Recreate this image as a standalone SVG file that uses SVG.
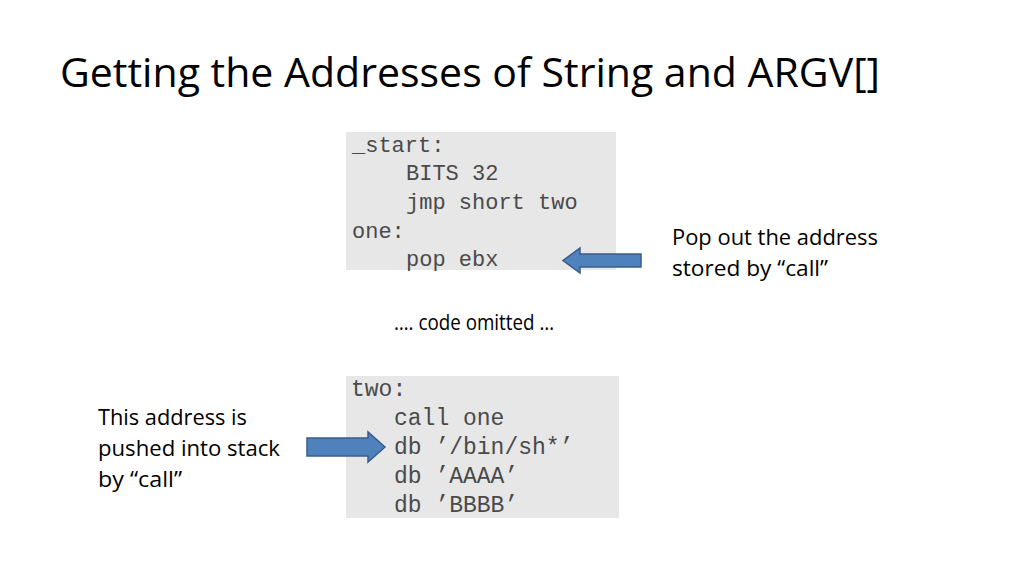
<svg xmlns="http://www.w3.org/2000/svg" width="1024" height="576" viewBox="0 0 1024 576">
<style>
.title{font-family:"Open Sans","Liberation Sans",sans-serif;font-size:40px;fill:#000}
.lbl{font-family:"Open Sans","Liberation Sans",sans-serif;font-size:21px;fill:#000}
.code{font-family:"Liberation Mono","DejaVu Sans Mono",monospace;fill:#4a4a4a}
.box{fill:#e7e7e7}
.arrow{fill:#4f81bd;stroke:#385d8a;stroke-width:1.5}
</style>
<rect width="1024" height="576" fill="#fff"/>
<text class="title" x="60" y="87" textLength="820" lengthAdjust="spacingAndGlyphs">Getting the Addresses of String and ARGV[]</text>
<g id="code-top">
<rect class="box" x="346" y="132" width="270" height="138"/>
<text class="code" font-size="22"><tspan x="352" y="152">_start:</tspan><tspan x="406" y="180">BITS 32</tspan><tspan x="406" y="209">jmp short two</tspan><tspan x="352" y="238">one:</tspan><tspan x="406" y="266">pop ebx</tspan></text>
</g>
<g id="omitted">
<text class="lbl" x="474" y="330" font-size="17" text-anchor="middle" textLength="160" lengthAdjust="spacingAndGlyphs">…. code omitted …</text>
</g>
<g id="code-bottom">
<rect class="box" x="346" y="376" width="273" height="142"/>
<text class="code" font-size="23"><tspan x="351" y="396">two:</tspan><tspan x="394" y="425">call one</tspan><tspan x="394" y="454">db ’/bin/sh*’</tspan><tspan x="394" y="483">db ’AAAA’</tspan><tspan x="394" y="512">db ’BBBB’</tspan></text>
</g>
<g id="label-pop">
<text class="lbl" x="672" y="245" textLength="206" lengthAdjust="spacingAndGlyphs">Pop out the address</text>
<text class="lbl" x="672" y="276" textLength="156" lengthAdjust="spacingAndGlyphs">stored by “call”</text>
</g>
<g id="label-push">
<text class="lbl" x="98" y="425" textLength="149" lengthAdjust="spacingAndGlyphs">This address is</text>
<text class="lbl" x="98" y="456" textLength="182" lengthAdjust="spacingAndGlyphs">pushed into stack</text>
<text class="lbl" x="98" y="487" textLength="84" lengthAdjust="spacingAndGlyphs">by “call”</text>
</g>
<g id="connectors">
<path class="arrow" d="M641,254 L580,254 L580,248 L563,260.5 L580,273 L580,267 L641,267 Z"/>
<path class="arrow" d="M307,438 L368,438 L368,432 L385,447 L368,462 L368,456 L307,456 Z"/>
</g>
</svg>
